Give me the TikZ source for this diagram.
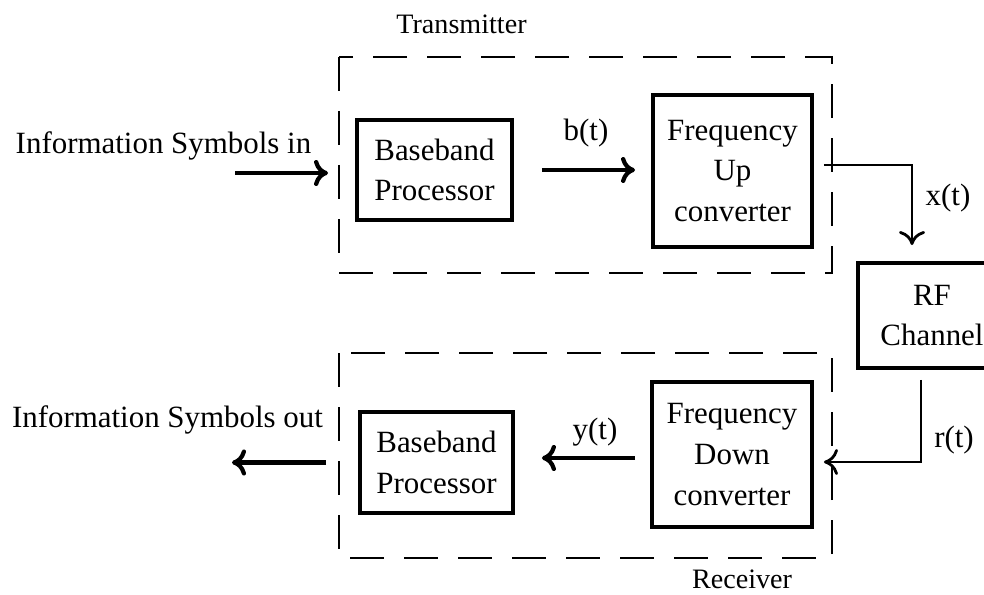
\documentclass[tikz,border=0pt]{standalone}
\usepackage{fontspec}
\setmainfont{Liberation Serif}
\usetikzlibrary{arrows.meta,calc}

\begin{document}
\begin{tikzpicture}[scale=0.25]
\tikzstyle{every node}+=[inner sep=0pt, align=center, font=\fontsize{22}{29}\selectfont]
\tikzstyle{block}=[draw=black, line width=2.8pt]
\tikzstyle{group}=[black, line width=1.4pt, dash pattern=on 0.85cm off 0.5cm]
\tikzstyle{sig}=[black, line width=3pt, -{To[length=3.5mm,width=6.5mm]}]
\tikzstyle{wire}=[black, line width=2pt, -{To[length=3.5mm,width=6.5mm]}]
\useasboundingbox (0,0) rectangle (98.4,-59.5);
% transmitter side
\draw [group] (33.9,-5.7) rectangle (83.2,-27.3);
\node (tx) at (46.15,-2.4) {\fontsize{20}{24}\selectfont Transmitter};
\node [block, minimum width=3.875cm, minimum height=2.5cm] (bbtx) at (43.45,-17.0) {Baseband\\Processor};
\node [block, minimum width=3.975cm, minimum height=3.8cm] (fup) at (73.25,-17.1) {Frequency\\Up\\converter};
% channel (runs past the right margin)
\node [block, minimum width=3.7cm, minimum height=2.625cm] (rf) at (93.2,-31.55) {RF\\Channel};
% receiver side
\draw [group] (33.9,-35.3) rectangle (83.2,-55.8);
\node (rx) at (74.2,-57.9) {\fontsize{20}{24}\selectfont Receiver};
\node [block, minimum width=4.0cm, minimum height=3.625cm] (fdown) at (73.2,-45.45) {Frequency\\Down\\converter};
\node [block, minimum width=3.825cm, minimum height=2.525cm] (bbrx) at (43.65,-46.25) {Baseband\\Processor};
% outside labels
\node (lin) at (16.35,-14.6) {Information Symbols in};
\node (lout) at (16.75,-42.0) {Information Symbols out};
\coordinate (inS) at (23.5,-17.3);
\coordinate (outE) at (23.2,-46.25);
\coordinate (yS) at ($(fdown.west)+(0,-0.35)$);
% signal flow
\draw [sig, shorten >=0.675cm] (inS) -- (inS -| bbtx.west);
\draw [sig, shorten <=0.7cm, shorten >=0.4cm] (bbtx.east) -- (bbtx.east -| fup.west);
\node (lb) at (58.6,-13.3) {b(t)};
\draw [wire, shorten <=0.25cm, shorten >=0.4cm] ($(fup.east)+(0,0.6)$) -| ($(rf.north)+(-2.0,0)$);
\node (lx) at (94.8,-19.8) {x(t)};
\draw [wire, shorten <=0.25cm, shorten >=0.25cm] ($(rf.south)+(-1.1,0)$) |- ($(fdown.east)+(0,-0.75)$);
\node (lr) at (95.4,-44.0) {r(t)};
\draw [sig, shorten <=0.375cm, shorten >=0.675cm] (yS) -- (yS -| bbrx.east);
\node (ly) at (59.5,-43.2) {y(t)};
\draw [sig, shorten <=0.8cm] (bbrx.west) -- (outE);
\end{tikzpicture}
\end{document}
